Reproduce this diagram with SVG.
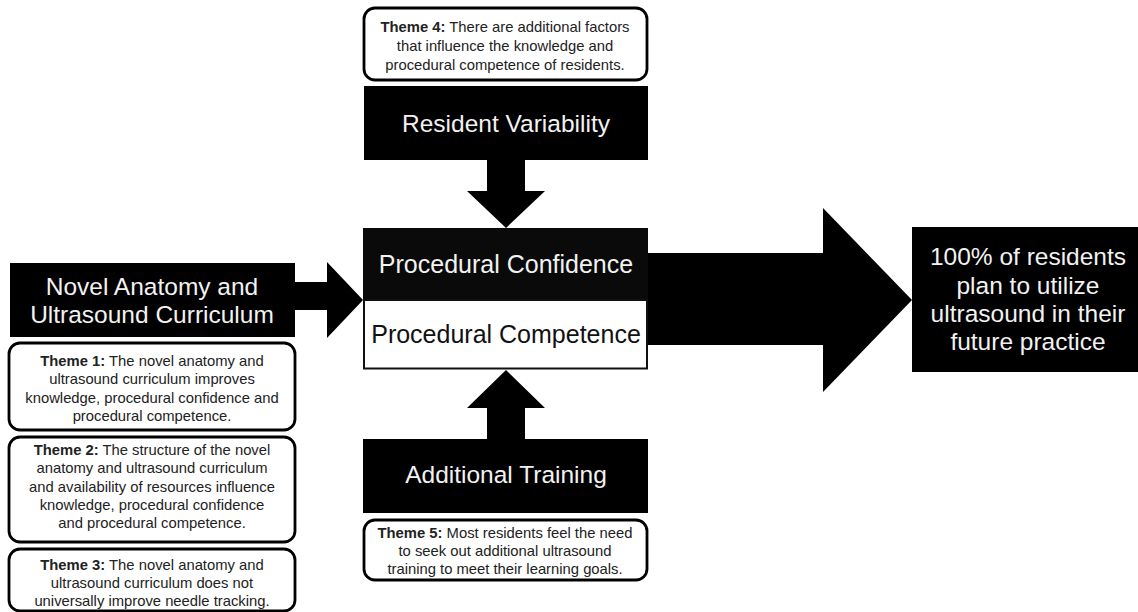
<svg xmlns="http://www.w3.org/2000/svg" width="1138" height="612" viewBox="0 0 1138 612">
<style>
.blk{fill:#000}
.big{font-family:"Liberation Sans",Arial,sans-serif;font-size:24.5px;fill:#f2f2f2;text-anchor:middle}
.bigd{font-family:"Liberation Sans",Arial,sans-serif;font-size:25px;fill:#111;text-anchor:middle}
.theme{fill:#fff;stroke:#000;stroke-width:2.8}
.tt{font-family:"Liberation Sans",Arial,sans-serif;font-size:14.8px;fill:#222;text-anchor:middle}
.b{font-weight:bold}
</style>
<rect width="1138" height="612" fill="#fff"/>
<g id="connectors" class="blk">
<polygon points="487,160 525,160 525,191 545,191 506,228 467,191 487,191"/>
<polygon points="487,439 487,408 467,408 506,370 545,408 525,408 525,439"/>
<polygon points="294,282 327,282 327,262 363,300 327,338 327,310 294,310"/>
<polygon points="648,253 823,253 823,208 912,300 823,392 823,345 648,345"/>
</g>
<g id="theme4">
<rect class="theme" x="364" y="8" width="283" height="72" rx="11"/>
<text class="tt" x="505" y="32"><tspan class="b">Theme 4:</tspan> There are additional factors</text>
<text class="tt" x="505" y="51">that influence the knowledge and</text>
<text class="tt" x="505" y="70">procedural competence of residents.</text>
</g>
<g id="resident-variability">
<rect class="blk" x="364" y="86" width="284" height="74"/>
<text class="big" x="506" y="132">Resident Variability</text>
</g>
<g id="procedural">
<rect x="363" y="228" width="285" height="72" fill="#0a0a0a"/>
<rect x="364" y="300" width="283" height="68.5" fill="#fff" stroke="#111" stroke-width="2"/>
<text class="big" x="506" y="273" style="font-size:25px">Procedural Confidence</text>
<text class="bigd" x="506" y="343">Procedural Competence</text>
</g>
<g id="curriculum">
<rect class="blk" x="10" y="263" width="285" height="74"/>
<text class="big" x="152" y="295">Novel Anatomy and</text>
<text class="big" x="152" y="323">Ultrasound Curriculum</text>
</g>
<g id="theme1">
<rect class="theme" x="9" y="343" width="286" height="87" rx="11"/>
<text class="tt" x="152" y="366"><tspan class="b">Theme 1:</tspan> The novel anatomy and</text>
<text class="tt" x="152" y="384">ultrasound curriculum improves</text>
<text class="tt" x="152" y="403">knowledge, procedural confidence and</text>
<text class="tt" x="152" y="421">procedural competence.</text>
</g>
<g id="theme2">
<rect class="theme" x="9" y="437" width="286" height="105" rx="11"/>
<text class="tt" x="152" y="455"><tspan class="b">Theme 2:</tspan> The structure of the novel</text>
<text class="tt" x="152" y="473">anatomy and ultrasound curriculum</text>
<text class="tt" x="152" y="492">and availability of resources influence</text>
<text class="tt" x="152" y="510">knowledge, procedural confidence</text>
<text class="tt" x="152" y="528">and procedural competence.</text>
</g>
<g id="theme3">
<rect class="theme" x="9" y="549" width="286" height="62" rx="11"/>
<text class="tt" x="152" y="570"><tspan class="b">Theme 3:</tspan> The novel anatomy and</text>
<text class="tt" x="152" y="588">ultrasound curriculum does not</text>
<text class="tt" x="152" y="606">universally improve needle tracking.</text>
</g>
<g id="additional-training">
<rect class="blk" x="363" y="439" width="285" height="74"/>
<text class="big" x="506" y="483">Additional Training</text>
</g>
<g id="theme5">
<rect class="theme" x="364" y="520" width="283" height="60" rx="11"/>
<text class="tt" x="505" y="538"><tspan class="b">Theme 5:</tspan> Most residents feel the need</text>
<text class="tt" x="505" y="556">to seek out additional ultrasound</text>
<text class="tt" x="505" y="574">training to meet their learning goals.</text>
</g>
<g id="result">
<rect class="blk" x="912" y="227" width="226" height="145"/>
<text class="big" x="1028" y="265">100% of residents</text>
<text class="big" x="1028" y="294">plan to utilize</text>
<text class="big" x="1028" y="322">ultrasound in their</text>
<text class="big" x="1028" y="350">future practice</text>
</g>
</svg>
